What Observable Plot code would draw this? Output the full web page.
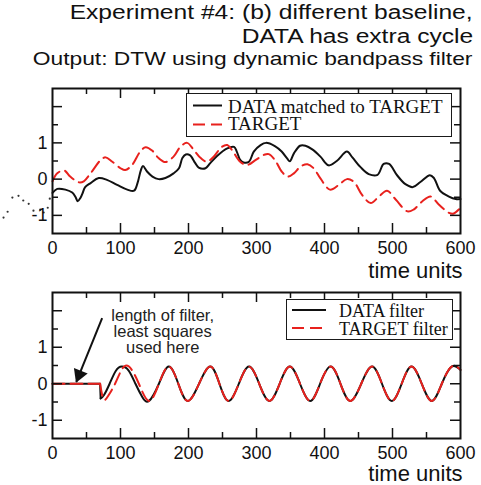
<!DOCTYPE html>
<html>
<head>
<meta charset="utf-8">
<title>Experiment #4: DTW using dynamic bandpass filter</title>
<script src="https://cdn.jsdelivr.net/npm/d3@7"></script>
<script src="https://cdn.jsdelivr.net/npm/@observablehq/plot@0.6"></script>
<style>
  html, body { margin: 0; padding: 0; background: #fff; }
  #figure { position: relative; width: 481px; height: 485px; overflow: hidden;
            font-family: "Liberation Sans", Arial, Helvetica, sans-serif; color: #111; }
  .title { position: absolute; white-space: nowrap; line-height: 1; transform-origin: right center; }
  .panel { position: absolute; left: 0; }
  .legend { position: absolute; box-sizing: border-box; border: 1.5px solid #1a1a1a; background: #fff;
            font-family: "Liberation Serif", "Times New Roman", serif; color: #111; }
  .legend .label { position: absolute; white-space: nowrap; line-height: 0.85; }
  .legend svg { position: absolute; left: 0; top: 0; overflow: visible; }
</style>
</head>
<body>
<div id="figure"></div>
<script>
// ---------- upper panel: DATA warped onto TARGET ----------
const matchedTime = [0,7,19,29,34,37,41,44,48,56, 68,80,95,110,120,125,130,133,139,147,
  156,166,178,186,191,196,202,210,215,225, 232,242,257,267,271,276,281,289,296,306,
  314,327,337,345,349,355,364,372,382,394, 406,418,433,441,453,465,478,487,495,507,
  519,530,541,555,561,570,583,593,600];
const matchedValue = [-0.38,-0.27,-0.29,-0.37,-0.50,-0.61,-0.52,-0.40,-0.22,-0.11,
  0.03,-0.02,-0.16,-0.29,-0.32,-0.11,0.25,0.36,0.21,0.07,
  0.0,0.03,0.16,0.30,0.58,0.68,0.66,0.44,0.32,0.30,
  0.44,0.64,0.85,0.89,0.76,0.53,0.46,0.48,0.76,0.94,
  1.0,0.91,0.76,0.57,0.49,0.71,0.92,0.92,0.82,0.62,
  0.38,0.50,0.76,0.60,0.33,0.14,0.12,0.42,0.42,0.10,
  -0.14,-0.22,-0.08,0.11,0.03,-0.32,-0.48,-0.55,-0.55];

const targetTime = [0,7,17,26,39,46,56,71,78,88, 100,107,117,129,137,147,156,166,178,188,
  198,208,218,227,237,249,257,264,276,286, 299,311,318,327,337,346,355,365,375,384,
  394,408,421,433,443,455,468,480,492,505, 522,531,544,556,568,583,590,600];
const targetValue = [-0.06,0.16,0.24,0.07,-0.09,-0.06,0.16,0.53,0.60,0.48,
  0.30,0.25,0.39,0.76,0.88,0.78,0.58,0.47,0.62,0.89,
  1.0,0.80,0.58,0.48,0.62,0.89,0.94,0.80,0.48,0.39,
  0.53,0.67,0.69,0.53,0.21,0.07,0.16,0.35,0.41,0.30,
  0.02,-0.29,-0.16,0.0,-0.07,-0.43,-0.66,-0.48,-0.32,-0.57,
  -0.89,-0.84,-0.61,-0.48,-0.70,-0.93,-0.95,-0.79];

// dotted trace left of the upper frame
const leftTraceTime = [-72,-66,-59,-50,-43,-35,-28,-18,-13,-7,-4];
const leftTraceValue = [-1.06,-0.90,-0.51,-0.46,-0.59,-0.68,-0.87,-0.84,-0.92,-0.79,-0.54];

// ---------- lower panel: bandpass filter outputs ----------
// filter warm-up: output held at zero
const dataFlatTime = [0,70,70.8];
const dataFlatValue = [0,0,-0.40];
const targetFlatTime = [0,70];
const targetFlatValue = [0,0];

const dataFilterTime = [70.8,76,84,93,102,112,122,132,142,
  156.5,171,185,199,215.5,232,245.5,259,274,289,
  304,319,334,349,364,379,393.5,409,423.5,438,
  454,470,484.5,499,513.5,528,543,558,572.5,587,600];
const dataFilterValue = [-0.40,-0.30,0.0,0.35,0.47,0.36,0.0,-0.36,-0.47,
  0,0.47,0,-0.47,0,0.47,0,-0.47,0,0.47,
  0,-0.47,0,0.47,0,-0.47,0,0.47,0,-0.47,
  0,0.47,0,-0.47,0,0.47,0,-0.47,0,0.47,0.38];

const targetFilterTime = [70,75,82,92,101,112,127,142,
  156.5,171,185,199,215.5,232,245.5,259,274,289,
  304,319,334,349,364,379,393.5,409,423.5,438,
  454,470,484.5,499,513.5,528,543,558,572.5,587,600];
const targetFilterValue = [0,-0.42,-0.33,0,0.36,0.48,0,-0.47,
  0,0.47,0,-0.47,0,0.47,0,-0.47,0,0.47,
  0,-0.47,0,0.47,0,-0.47,0,0.47,0,-0.47,
  0,0.47,0,-0.47,0,0.47,0,-0.47,0,0.47,0.38];

// annotation arrow (tail, head) in data units
const arrowTail = [73, 1.80];
const arrowHead = [35, 0.05];
const noteText = "length of filter,\nleast squares\nused here";

// ---------- axes ----------
const xDomain = [0, 600];
const yDomain = [-1.5, 2.5];
const xTickLabels = [0,100,200,300,400,500,600];
const xMajorTicks = [100,200,300,400,500];
const xMinorTicks = [50,150,250,350,450,550];
const yTickLabels = [-1,0,1];
const yMajorTicks = [-1,0,1,2];
const yMinorTicks = [-0.5,0.5,1.5];

const titleLines = ["Experiment #4: (b) different baseline,", "DATA has extra cycle"];
const subtitle = "Output: DTW using dynamic bandpass filter";
const axisTitle = "time units";
const upperLegend = ["DATA matched to TARGET", "TARGET"];
const lowerLegend = ["DATA filter", "TARGET filter"];

// ---------- helpers ----------
const zip = (ts, vs) => ts.map((t, i) => ({t, v: vs[i]}));
const INK = "#111";
const RED = "#e8211d";
const DASH = "12,6";
const W = 481, ML = 52, MR = 21, MT = 8, MB = 47;

function panel(height, marks) {
  const frameW = W - ML - MR, frameH = height - MT - MB;
  const tickStyle = {stroke: INK, strokeWidth: 1.5};
  const ticks = [];
  for (const [vals, len] of [[xMajorTicks, 10], [xMinorTicks, 6]]) {
    ticks.push(Plot.ruleX(vals, {x: d => d, insetTop: frameH - len, ...tickStyle}));
    ticks.push(Plot.ruleX(vals, {x: d => d, insetBottom: frameH - len, ...tickStyle}));
  }
  for (const [vals, len] of [[yMajorTicks, 10], [yMinorTicks, 6]]) {
    ticks.push(Plot.ruleY(vals, {y: d => d, insetRight: frameW - len, ...tickStyle}));
    ticks.push(Plot.ruleY(vals, {y: d => d, insetLeft: frameW - len, ...tickStyle}));
  }
  return Plot.plot({
    width: W, height,
    marginLeft: ML, marginRight: MR, marginTop: MT, marginBottom: MB,
    x: {domain: xDomain, label: null},
    y: {domain: yDomain, label: null},
    style: {fontFamily: '"Liberation Sans", Arial, Helvetica, sans-serif', color: INK, background: "transparent", overflow: "visible"},
    marks: [
      ...marks,
      ...ticks,
      Plot.frame({stroke: INK, strokeWidth: 2}),
      Plot.axisX(xTickLabels, {tickSize: 0, tickPadding: 8, fontSize: 18, label: null, tickFormat: d => String(d)}),
      Plot.axisY(yTickLabels, {tickSize: 0, tickPadding: 5, fontSize: 18, label: null, tickFormat: d => String(d)})
    ]
  });
}

function legend(parent, box, rows, fontSize) {
  const el = document.createElement("div");
  el.className = "legend";
  Object.assign(el.style, {left: box.left + "px", top: box.top + "px", width: box.width + "px", height: box.height + "px", fontSize: fontSize + "px"});
  const ns = "http://www.w3.org/2000/svg";
  const svg = document.createElementNS(ns, "svg");
  svg.setAttribute("width", box.width);
  svg.setAttribute("height", box.height);
  el.appendChild(svg);
  for (const r of rows) {
    const line = document.createElementNS(ns, "line");
    line.setAttribute("x1", box.lineX[0]); line.setAttribute("x2", box.lineX[1]);
    line.setAttribute("y1", r.lineY); line.setAttribute("y2", r.lineY);
    line.setAttribute("stroke", r.color); line.setAttribute("stroke-width", 2);
    if (r.dash) line.setAttribute("stroke-dasharray", r.dash);
    svg.appendChild(line);
    const t = document.createElement("div");
    t.className = "label";
    t.textContent = r.label;
    t.style.left = box.textX + "px";
    t.style.top = r.textTop + "px";
    el.appendChild(t);
  }
  parent.appendChild(el);
}

// ---------- assemble ----------
const fig = document.getElementById("figure");

function addText(text, style) {
  const d = document.createElement("div");
  d.className = "title";
  d.textContent = text;
  Object.assign(d.style, style);
  fig.appendChild(d);
}
addText(titleLines[0], {right: "8px", top: "2px", fontSize: "20px", transform: "scaleX(1.23)"});
addText(titleLines[1], {right: "8px", top: "26px", fontSize: "20px", transform: "scaleX(1.23)"});
addText(subtitle, {right: "9px", top: "49px", fontSize: "19px", transform: "scaleX(1.2)"});

const timeLabel = (dy) => Plot.text([axisTitle], {frameAnchor: "bottom-right", text: d => d, textAnchor: "end", lineAnchor: "bottom", dx: 2, dy, fontSize: 22, fill: INK});

const upper = panel(200, [
  Plot.dot(zip(leftTraceTime, leftTraceValue), {x: "t", y: "v", r: 1.1, fill: "#333", stroke: "none"}),
  Plot.line(zip(matchedTime, matchedValue), {x: "t", y: "v", stroke: INK, strokeWidth: 2, curve: "catmull-rom"}),
  Plot.line(zip(targetTime, targetValue), {x: "t", y: "v", stroke: RED, strokeWidth: 2, strokeDasharray: DASH, curve: "catmull-rom"}),
  timeLabel(44)
]);
upper.classList.add("panel");
upper.style.top = "80px";
fig.appendChild(upper);

const lower = panel(201, [
  Plot.line(zip(dataFlatTime, dataFlatValue), {x: "t", y: "v", stroke: INK, strokeWidth: 2}),
  Plot.line(zip(dataFilterTime, dataFilterValue), {x: "t", y: "v", stroke: INK, strokeWidth: 2, curve: "natural"}),
  Plot.line(zip(targetFlatTime, targetFlatValue), {x: "t", y: "v", stroke: RED, strokeWidth: 2, strokeDasharray: DASH}),
  Plot.line(zip(targetFilterTime, targetFilterValue), {x: "t", y: "v", stroke: RED, strokeWidth: 2, strokeDasharray: DASH, curve: "natural"}),
  Plot.link([{tail: arrowTail, head: arrowHead}], {x1: d => d.tail[0], y1: d => d.tail[1], x2: d => d.head[0], y2: d => d.head[1], stroke: INK, strokeWidth: 2}),
  Plot.dot([arrowHead], {x: d => d[0], y: d => d[1], symbol: "triangle", r: 5.5, fill: INK, stroke: "none", rotate: 202, dx: 2.9, dy: -7.2}),
  Plot.text([noteText], {x: 162, y: 2.03, text: d => d, lineAnchor: "top", textAnchor: "middle", fontSize: 16.5, lineHeight: 0.97, fill: "#222"}),
  timeLabel(42)
]);
lower.classList.add("panel");
lower.style.top = "284px";
fig.appendChild(lower);

legend(fig, {left: 186, top: 93, width: 266, height: 44, lineX: [6, 35], textX: 41},
  [{label: upperLegend[0], color: INK, lineY: 11.5, textTop: 5.0},
   {label: upperLegend[1], color: RED, dash: DASH, lineY: 30.5, textTop: 22.0}], 19);
legend(fig, {left: 286, top: 299, width: 167, height: 41, lineX: [5, 39], textX: 52},
  [{label: lowerLegend[0], color: INK, lineY: 10, textTop: 3.8},
   {label: lowerLegend[1], color: RED, dash: DASH, lineY: 28, textTop: 21.8}], 18);
</script>
</body>
</html>
